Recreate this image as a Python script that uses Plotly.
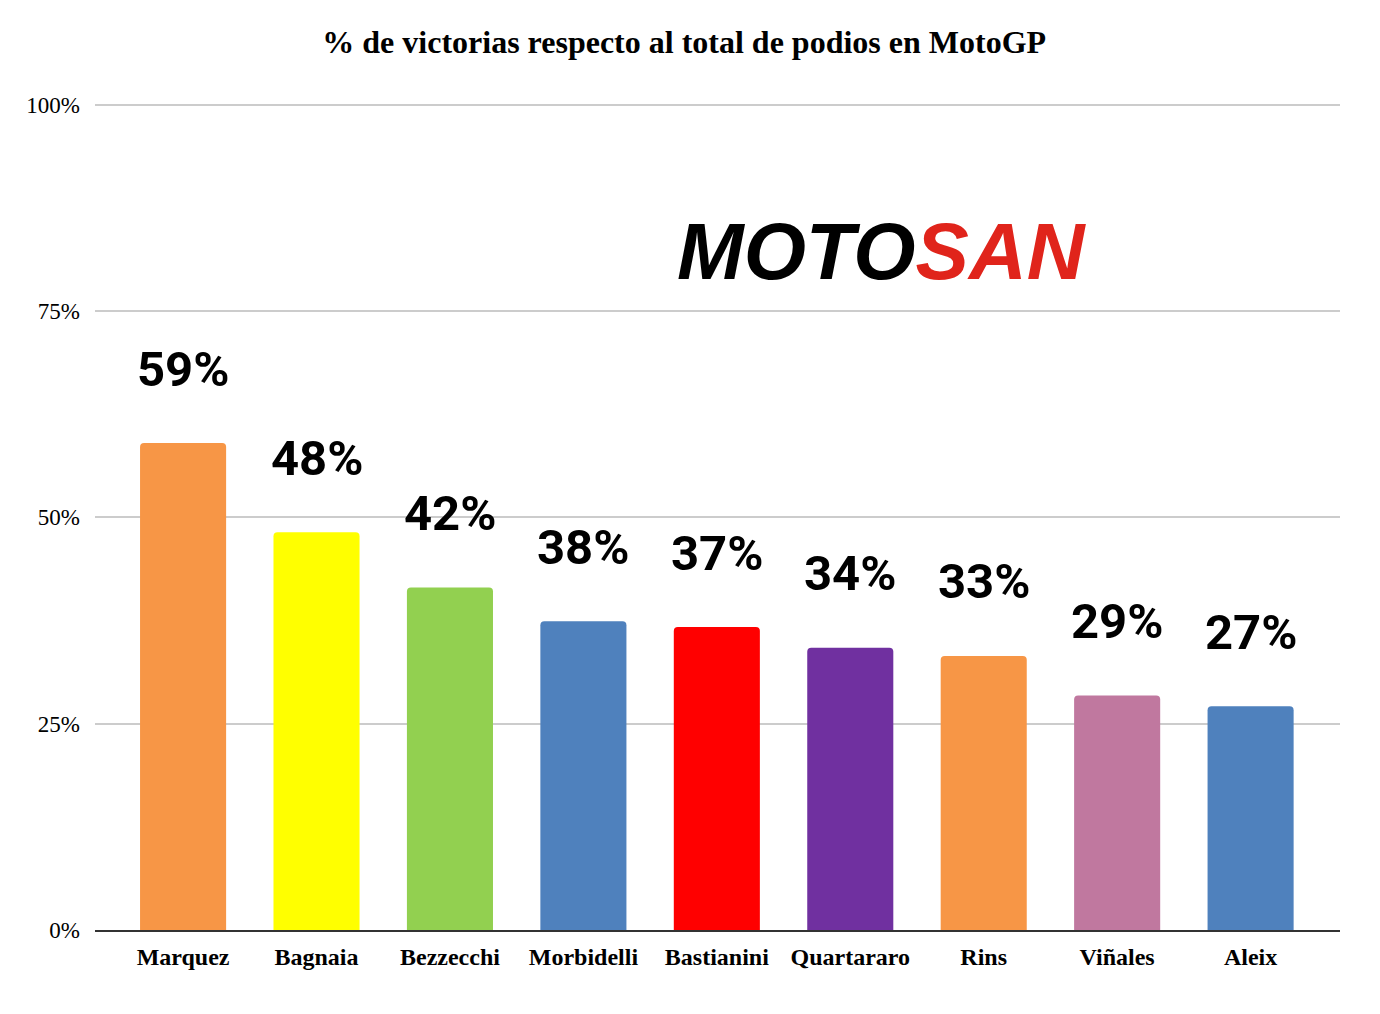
import plotly.graph_objects as go

# pilots and share of wins over total podiums (%)
riders = ['Marquez', 'Bagnaia', 'Bezzecchi', 'Morbidelli', 'Bastianini',
          'Quartararo', 'Rins', 'Viñales', 'Aleix']
win_pct = [59.0, 48.2, 41.5, 37.4, 36.7, 34.2, 33.2, 28.4, 27.1]
pct_labels = ['59%', '48%', '42%', '38%', '37%', '34%', '33%', '29%', '27%']
bar_colors = ['#F79646', '#FFFF00', '#92D050', '#4F81BD', '#FF0000',
              '#7030A0', '#F79646', '#C0789F', '#4F81BD']
y_ticks = [0, 25, 50, 75, 100]
y_tick_text = ['0%', '25%', '50%', '75%', '100%']

fig = go.Figure()
fig.add_trace(go.Bar(
    x=riders, y=win_pct,
    marker=dict(color=bar_colors, line=dict(width=0), cornerradius=4),
    hoverinfo='x+y',
))

# big value labels floating above each bar
for name, val, lab in zip(riders, win_pct, pct_labels):
    fig.add_annotation(x=name, y=val, text='<b>' + lab + '</b>', showarrow=False,
                       yshift=74, yanchor='middle',
                       font=dict(family='Roboto', size=49, color='black'))

# logo stand-in
fig.add_annotation(xref='paper', yref='paper', x=0.632, y=0.82,
                   text="<b><i>MOTO<span style='color:#E0241B'>SAN</span></i></b>",
                   showarrow=False, xanchor='center', yanchor='middle',
                   font=dict(family='Liberation Sans', size=80, color='black'))

fig.update_layout(
    title=dict(text='<b>% de victorias respecto al total de podios en MotoGP</b>',
               x=0.49, xanchor='center', y=0.967, yanchor='middle',
               font=dict(family='Liberation Serif', size=32, color='black')),
    width=1380, height=1014,
    margin=dict(l=87, r=48, t=95, b=92),
    plot_bgcolor='white', paper_bgcolor='white',
    bargap=0.355,
    showlegend=False,
    xaxis=dict(range=[-0.66, 8.67], showgrid=False, ticks='',
               tickfont=dict(family='Liberation Serif', size=24, color='black',
                             weight='bold'),
               ticklabelstandoff=4,
               showline=True, linecolor='#333333', linewidth=2),
    yaxis=dict(range=[0, 100.2], tickvals=y_ticks, ticktext=y_tick_text,
               showgrid=True, gridcolor='#cccccc', gridwidth=1.5,
               zeroline=False, ticklabelstandoff=14,
               tickfont=dict(family='Liberation Serif', size=23, color='black')),
)

fig.write_html("out.html")
